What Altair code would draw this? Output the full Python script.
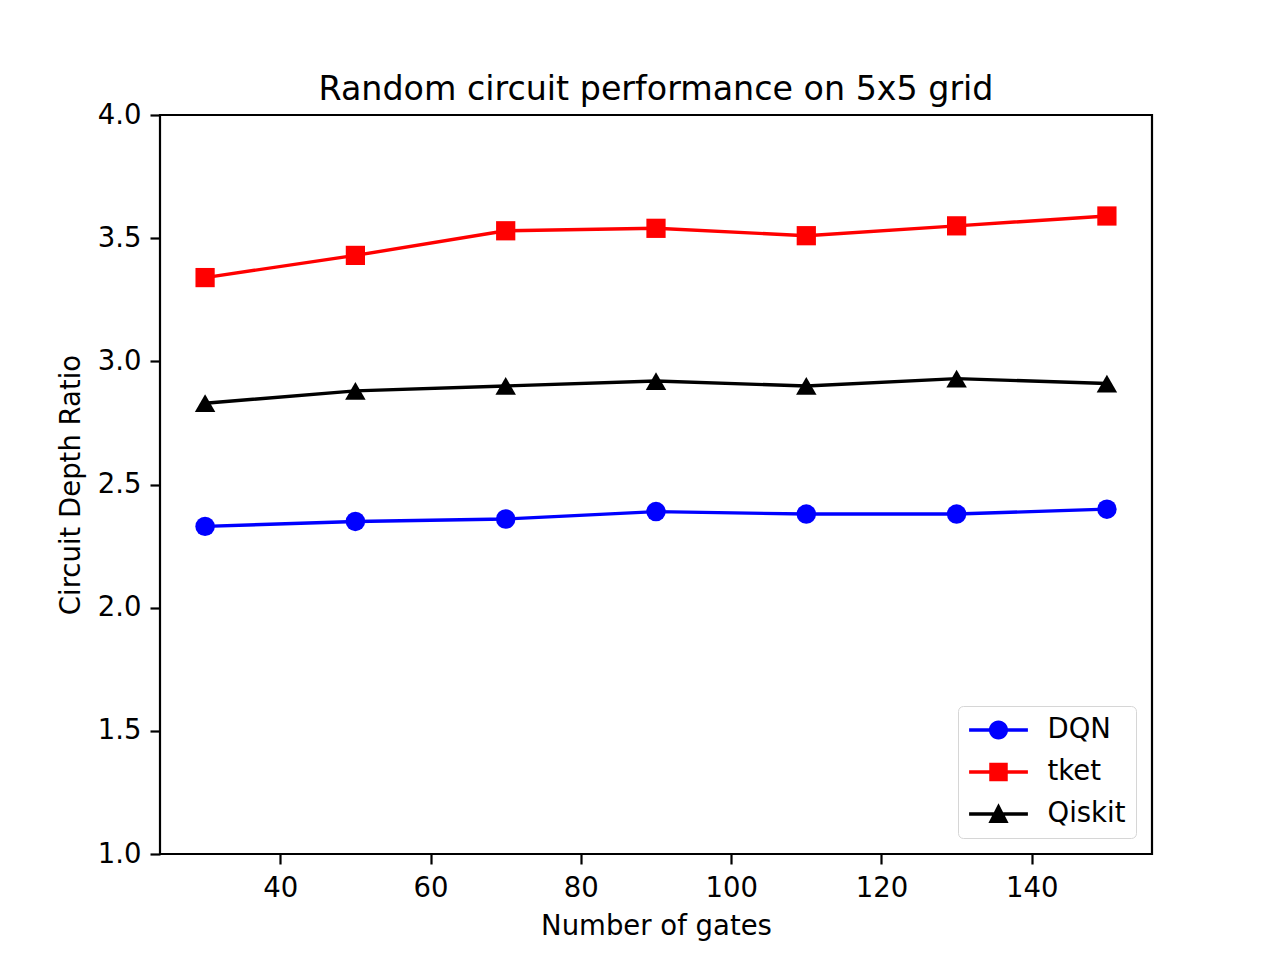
import altair as alt
import pandas as pd

gates = [30, 50, 70, 90, 110, 130, 150]
dqn = [2.33, 2.35, 2.36, 2.39, 2.38, 2.38, 2.40]
tket = [3.34, 3.43, 3.53, 3.54, 3.51, 3.55, 3.59]
qiskit = [2.83, 2.88, 2.90, 2.92, 2.90, 2.93, 2.91]

series_names = ["DQN", "tket", "Qiskit"]
series_colors = ["#0000ff", "#ff0000", "#000000"]
series_shapes = ["circle", "square", "triangle-up"]
x_ticks = [40, 60, 80, 100, 120, 140]
y_ticks = [1.0, 1.5, 2.0, 2.5, 3.0, 3.5, 4.0]

rows = []
for name, vals in zip(series_names, [dqn, tket, qiskit]):
    for g, v in zip(gates, vals):
        rows.append({"gates": g, "ratio": v, "series": name})
df = pd.DataFrame(rows)

FONT = "DejaVu Sans"
FS = 27.5

# legend symbols: line segment + marker (unit = 14px)
legend_paths = [
    "M-2.1,-0.12H2.1V0.12H-2.1Z M-0.68,0A0.68,0.68 0 1,1 0.68,0A0.68,0.68 0 1,1 -0.68,0Z",
    "M-2.1,-0.12H2.1V0.12H-2.1Z M-0.66,-0.66H0.66V0.66H-0.66Z",
    "M-2.1,-0.12H2.1V0.12H-2.1Z M0,-0.76L0.72,0.64H-0.72Z",
]

xenc = alt.X("gates:Q", scale=alt.Scale(domain=[24, 156], nice=False, zero=False),
             axis=alt.Axis(title="Number of gates", values=x_ticks, format="d"))
yenc = alt.Y("ratio:Q", scale=alt.Scale(domain=[1.0, 4.0], nice=False, zero=False),
             axis=alt.Axis(title="Circuit Depth Ratio", values=y_ticks, format=".1f"))

base = alt.Chart(df)

legend_props = dict(
    title=None, orient="none", legendX=798, legendY=591,
    symbolSize=784, symbolStrokeWidth=0, symbolOpacity=1, symbolOffset=16.5,
    labelFont=FONT, labelFontSize=FS, labelColor="black",
    labelOffset=35, rowPadding=14, padding=10,
    fillColor="white", strokeColor="#d6d6d6", cornerRadius=5,
)

# invisible layer that only provides the legend
legend_layer = base.mark_point(filled=True, opacity=0).encode(
    x=xenc, y=yenc,
    color=alt.Color("series:N", scale=alt.Scale(domain=series_names, range=series_colors),
                    legend=alt.Legend(**legend_props)),
    shape=alt.Shape("series:N", scale=alt.Scale(domain=series_names, range=legend_paths),
                    legend=alt.Legend(**legend_props)),
)

lines = base.mark_line(strokeWidth=3.4).encode(
    x=xenc, y=yenc,
    stroke=alt.Stroke("series:N", scale=alt.Scale(domain=series_names, range=series_colors),
                      legend=None),
    detail="series:N",
)

point_layers = []
for name, shp, sz in zip(series_names, series_shapes, [380, 370, 420]):
    point_layers.append(
        base.transform_filter(alt.datum.series == name)
        .mark_point(shape=shp, filled=True, size=sz, opacity=1, strokeWidth=0)
        .encode(x=xenc, y=yenc,
                fill=alt.Fill("series:N",
                              scale=alt.Scale(domain=series_names, range=series_colors),
                              legend=None))
    )

chart = alt.layer(legend_layer, lines, *point_layers).properties(
    width=992, height=739,
    title=alt.TitleParams("Random circuit performance on 5x5 grid", font=FONT, fontSize=33.3,
                          fontWeight="normal", color="black", anchor="middle",
                          baseline="alphabetic", offset=-32),
    autosize=alt.AutoSizeParams(type="none"),
    padding={"left": 152, "top": 107, "right": 100, "bottom": 90},
).configure_view(
    stroke="black", strokeWidth=2.2
).configure_axis(
    grid=False, domain=False,
    ticks=True, tickSize=10, tickWidth=2.2, tickColor="black",
    labelFont=FONT, labelFontSize=FS, labelColor="black",
    titleFont=FONT, titleFontSize=FS, titleColor="black", titleFontWeight="normal",
).configure_axisX(
    labelPadding=10, titlePadding=11,
).configure_axisY(
    labelPadding=9, titlePadding=12,
)

chart.save("out.html", embed_options={"renderer": "svg", "actions": False})
